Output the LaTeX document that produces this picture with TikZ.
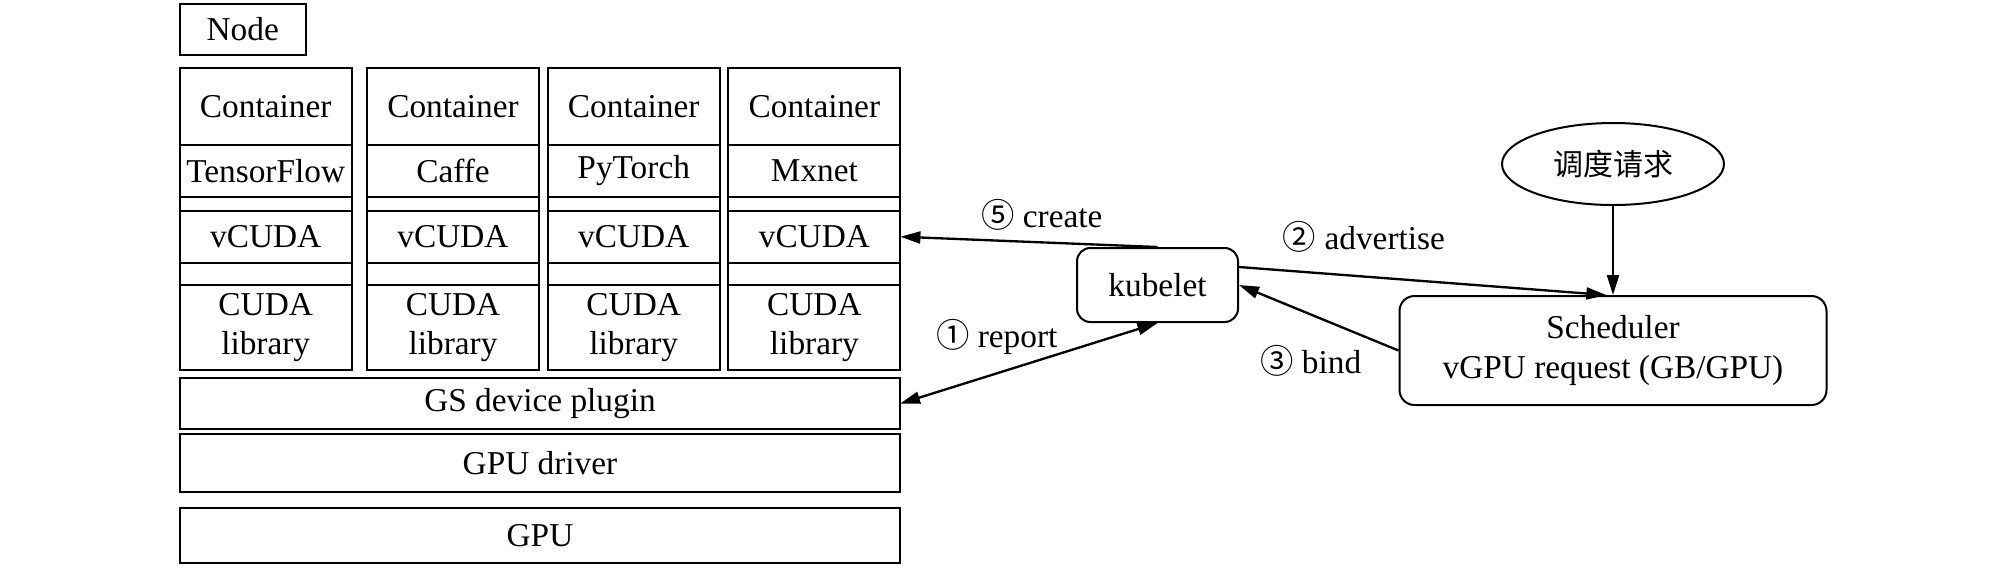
\documentclass[tikz,border=0pt]{standalone}
\usepackage{fontspec}
\setmainfont{Liberation Serif}
\newfontfamily\cjk{Noto Sans CJK SC}
\usetikzlibrary{positioning, arrows.meta, shapes.geometric}

\begin{document}
\begin{tikzpicture}[
  x=0.3pt, y=-0.3pt,
  >={Triangle[length=6pt, width=3.6pt]},
  every node/.style={font=\fontsize{10}{11.8}\selectfont},
  cell/.style  = {draw, line width=0.6pt, inner sep=0pt, outer sep=0pt, align=center, minimum width=51.6pt},
  layer/.style = {cell, minimum width=216pt},
  soft/.style  = {draw, line width=0.6pt, rounded corners=4pt, align=center, inner sep=2pt},
  arr/.style   = {->, line width=0.7pt},
]
  \useasboundingbox (0,0) rectangle (2008,567);
  % one column of stacked cells per container
  \foreach \i/\x/\fw in {1/265.7/TensorFlow, 2/453/Caffe, 3/633.7/PyTorch, 4/814.4/Mxnet}{
    \node[cell, minimum height=23.2pt, anchor=north] (c\i) at (\x,67.7) {Container};
    \node[cell, minimum height=15.5pt, below=0pt of c\i] (f\i) {\fw};
    \node[cell, minimum height=4.2pt,  below=0pt of f\i] (g\i) {};
    \node[cell, minimum height=15.6pt, below=0pt of g\i] (v\i) {vCUDA};
    \node[cell, minimum height=6.8pt,  below=0pt of v\i] (h\i) {};
    \node[cell, minimum height=25.4pt, below=0pt of h\i] (l\i) {CUDA\\library};
  }
  \node[cell, minimum width=37.8pt, minimum height=15.3pt, above=3.8pt of c1.north west, anchor=south west] (node) {Node};

  % shared layers under the containers
  \node[layer, minimum height=15.4pt, anchor=north] (plugin) at (540,378) {GS device plugin};
  \node[layer, minimum height=17.3pt, below=1.4pt of plugin] (driver) {GPU driver};
  \node[layer, minimum height=16.4pt, below=4.9pt of driver] (gpu)    {GPU};

  % control side
  \node[soft, minimum width=48.3pt, minimum height=22.2pt] (kubelet) at (1157.5,285) {kubelet};
  \node[ellipse, draw, line width=0.6pt, inner sep=0pt, minimum width=66.6pt, minimum height=24.6pt,
        font=\cjk\fontsize{9}{9}\selectfont] (req) at (1613,164) {调度请求};
  \node[soft, rounded corners=4.5pt, minimum width=128.1pt, minimum height=32.7pt, below=26.7pt of req] (sched)
       {Scheduler\\vGPU request (GB/GPU)};

  \draw[arr] (kubelet.north) -- node[pos=0.45, above=0pt] (lcreate) {{\cjk ⑤} create} (v4.east);
  \draw[arr, <->] (plugin.east) -- node[pos=0.62, anchor=south east, xshift=3pt, yshift=-4pt] (lreport) {{\cjk ①} report} (kubelet.south);
  \draw[arr] ([yshift=5.4pt]kubelet.east) -- node[pos=0.34, above=3.5pt] (ladv) {{\cjk ②} advertise} ([xshift=-2pt]sched.north);
  \draw[arr] (sched.west) -- node[pos=0.55, below=5.7pt] (lbind) {{\cjk ③} bind} (kubelet.east);
  \draw[arr] (req.south) -- (sched.north);
\end{tikzpicture}
\end{document}
